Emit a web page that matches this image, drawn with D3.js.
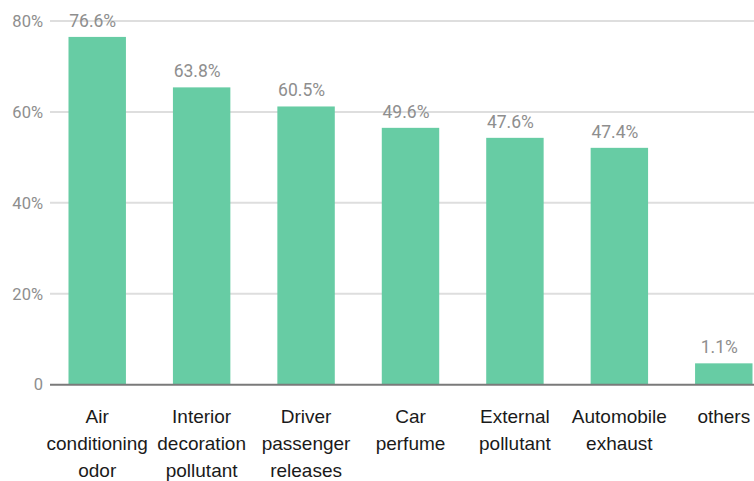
<!DOCTYPE html>
<html>
<head>
<meta charset="utf-8">
<script src="https://cdn.jsdelivr.net/npm/d3@7"></script>
<style>
  html, body { margin: 0; padding: 0; background: #fff; }
  svg { display: block; }
</style>
</head>
<body>
<svg id="chart" width="754" height="481"></svg>
<script>
const categories = [
  ["Air", "conditioning", "odor"],
  ["Interior", "decoration", "pollutant"],
  ["Driver", "passenger", "releases"],
  ["Car", "perfume"],
  ["External", "pollutant"],
  ["Automobile", "exhaust"],
  ["others"]
];
// bar heights as drawn in the picture (percent)
const barValues = [76.5, 65.4, 61.2, 56.5, 54.3, 52.1, 4.7];
// value labels as printed above bars
const valueLabels = ["76.6%", "63.8%", "60.5%", "49.6%", "47.6%", "47.4%", "1.1%"];
const yTicks = [0, 20, 40, 60, 80];
const yTickLabels = ["0", "20%", "40%", "60%", "80%"];

const svg = d3.select("#chart");
const idx = d3.range(categories.length);

const x = d3.scaleBand()
  .domain(idx)
  .range([45, 776])
  .paddingInner(0.45)
  .paddingOuter(0.225);

const y = d3.scaleLinear().domain([0, 80]).range([384.7, 21]);

// gridlines
svg.append("g").selectAll("line")
  .data(yTicks.filter(d => d !== 0))
  .join("line")
  .attr("x1", 50).attr("x2", 754)
  .attr("y1", d => y(d)).attr("y2", d => y(d))
  .attr("stroke", "#dedede").attr("stroke-width", 2);

// y tick labels
svg.append("g").selectAll("text")
  .data(yTicks)
  .join("text")
  .attr("x", 43)
  .attr("y", d => y(d))
  .attr("dy", "0.35em")
  .attr("text-anchor", "end")
  .attr("font-family", "Roboto, sans-serif")
  .attr("font-size", 16.5)
  .attr("fill", "#8e8e8e")
  .text((d, i) => yTickLabels[i]);

// bars
svg.append("g").selectAll("rect")
  .data(idx)
  .join("rect")
  .attr("x", i => x(i))
  .attr("width", x.bandwidth())
  .attr("y", i => y(barValues[i]))
  .attr("height", i => y(0) - y(barValues[i]))
  .attr("fill", "#67cca4");

// baseline
svg.append("line")
  .attr("x1", 50).attr("x2", 754)
  .attr("y1", y(0)).attr("y2", y(0))
  .attr("stroke", "#7a7a7a").attr("stroke-width", 2);

// value labels
svg.append("g").selectAll("text")
  .data(idx)
  .join("text")
  .attr("x", i => x(i) + x.bandwidth() / 2 - 4.5)
  .attr("y", i => y(barValues[i]) - 10)
  .attr("text-anchor", "middle")
  .attr("font-family", "Roboto, sans-serif")
  .attr("font-size", 17.5)
  .attr("fill", "#8e8e8e")
  .text(i => valueLabels[i]);

// x category labels
const xl = svg.append("g").selectAll("text")
  .data(idx)
  .join("text")
  .attr("x", i => x(i) + x.bandwidth() / 2)
  .attr("y", 423.3)
  .attr("text-anchor", "middle")
  .attr("font-family", "'Liberation Sans', Arial, sans-serif")
  .attr("font-size", 19)
  .attr("fill", "#1a1a1a");
xl.each(function(i) {
  const t = d3.select(this);
  categories[i].forEach((line, k) => {
    t.append("tspan")
      .attr("x", x(i) + x.bandwidth() / 2)
      .attr("dy", k === 0 ? 0 : 26.7)
      .text(line);
  });
});
</script>
</body>
</html>
